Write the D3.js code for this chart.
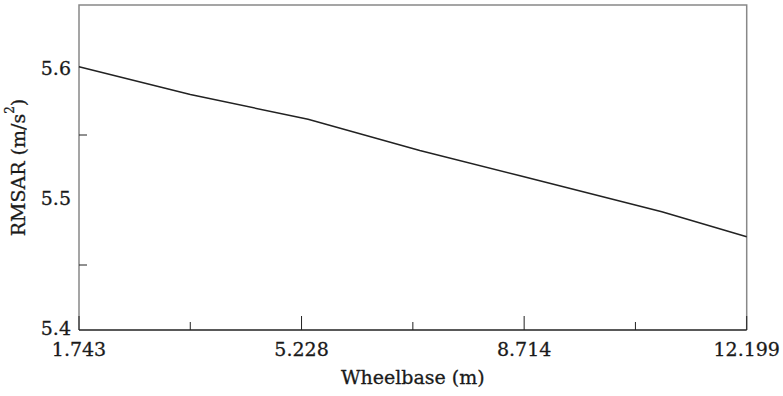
<!DOCTYPE html>
<html>
<head>
<meta charset="UTF-8">
<script src="https://cdn.jsdelivr.net/npm/d3@7"></script>
<style>
  body { margin: 0; background: #fff; }
  text { font-family: "DejaVu Serif", serif; fill: #1a1a1a; stroke: #1a1a1a; stroke-width: 0.3; }
</style>
</head>
<body>
<svg id="chart" width="783" height="396"></svg>
<script>
// values
const wheelbase = [1.743, 3.486, 5.33, 7.08, 8.65, 10.87, 12.199];
const rmsar     = [5.6025, 5.5811, 5.5621, 5.5381, 5.5187, 5.4910, 5.4718];
const xTicks      = [1.743, 5.228, 8.714, 12.199];
const xMinorTicks = [3.4855, 6.971, 10.4565];
const yTicks      = [5.4, 5.5, 5.6];
const yMinorTicks = [5.45, 5.55];

// plot box
const pLeft = 79, pRight = 746.7, pTop = 5, pBottom = 330;
const fs = 19;

const svg = d3.select("#chart");
const x = d3.scaleLinear([1.743, 12.199], [pLeft, pRight]);
const y = d3.scaleLinear([5.4, 5.65], [pBottom, pTop]);

// frame: gray on three sides, dark bottom
svg.append("path")
    .attr("d", `M${pLeft},${pBottom}V${pTop}H${pRight}V${pBottom}`)
    .attr("fill", "none").attr("stroke", "#888").attr("stroke-width", 1.5);
svg.append("line")
    .attr("x1", pLeft).attr("x2", pRight).attr("y1", pBottom).attr("y2", pBottom)
    .attr("stroke", "#222").attr("stroke-width", 1.5);

// x ticks pointing inward
const gx = svg.append("g");
gx.selectAll(".maj").data(xTicks).join("line")
    .attr("class", "maj")
    .attr("x1", d => x(d)).attr("x2", d => x(d))
    .attr("y1", pBottom).attr("y2", pBottom - 14)
    .attr("stroke", "#222").attr("stroke-width", 1);
gx.selectAll(".min").data(xMinorTicks).join("line")
    .attr("class", "min")
    .attr("x1", d => x(d)).attr("x2", d => x(d))
    .attr("y1", pBottom).attr("y2", pBottom - 8)
    .attr("stroke", "#222").attr("stroke-width", 1);
gx.selectAll("text").data(xTicks).join("text")
    .attr("x", d => x(d)).attr("y", pBottom + 19)
    .attr("text-anchor", "middle").attr("dominant-baseline", "central")
    .attr("font-size", fs)
    .text(d => d3.format(".3f")(d));

// y ticks
const gy = svg.append("g");
gy.selectAll("line").data(yMinorTicks).join("line")
    .attr("x1", pLeft).attr("x2", pLeft + 8)
    .attr("y1", d => y(d)).attr("y2", d => y(d))
    .attr("stroke", "#222").attr("stroke-width", 1);
gy.selectAll("text").data(yTicks).join("text")
    .attr("x", pLeft - 8).attr("y", d => y(d) - 2)
    .attr("text-anchor", "end").attr("dominant-baseline", "central")
    .attr("font-size", fs)
    .text(d => d3.format(".1f")(d));

// axis titles
svg.append("text")
    .attr("x", (pLeft + pRight) / 2).attr("y", 377)
    .attr("text-anchor", "middle").attr("dominant-baseline", "central")
    .attr("font-size", fs)
    .text("Wheelbase (m)");

const yt = svg.append("text")
    .attr("transform", `translate(18,${(pTop + pBottom) / 2}) rotate(-90)`)
    .attr("text-anchor", "middle").attr("dominant-baseline", "central")
    .attr("font-size", fs);
yt.append("tspan").text("RMSAR (m/s");
yt.append("tspan").attr("dy", -8).attr("font-size", 12).text("2");
yt.append("tspan").attr("dy", 8).text(")");

// data line
const line = d3.line().x((d, i) => x(wheelbase[i])).y(d => y(d));
svg.append("path")
    .datum(rmsar)
    .attr("d", line)
    .attr("fill", "none").attr("stroke", "#222").attr("stroke-width", 1.5);
</script>
</body>
</html>
